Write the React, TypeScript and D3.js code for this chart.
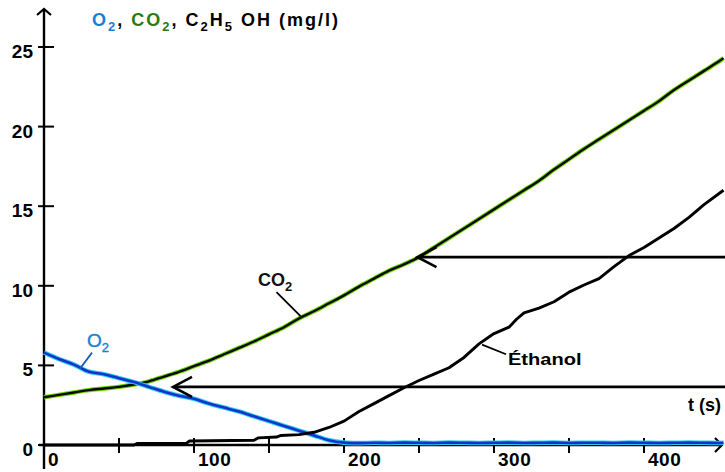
import React from "react";
import * as d3 from "d3";

const W = 725;
const H = 472;

// time grid (s) for CO2 and O2
const timeGrid = [0, 10, 20, 30, 40, 50, 60, 70, 80, 90, 100, 110, 120, 130, 140, 150, 160, 170, 180, 190, 200, 210, 220, 230, 240, 250, 260, 270, 280, 290, 300, 310, 320, 330, 340, 350, 360, 370, 380, 390, 400, 410, 420, 430, 440, 450, 453];
const co2Values = [3.0, 3.15, 3.3, 3.45, 3.55, 3.65, 3.8, 4.0, 4.3, 4.6, 4.95, 5.3, 5.7, 6.1, 6.5, 6.95, 7.4, 7.95, 8.4, 8.9, 9.4, 9.95, 10.45, 10.95, 11.35, 11.8, 12.4, 13.0, 13.6, 14.2, 14.8, 15.4, 16.0, 16.6, 17.3, 17.95, 18.6, 19.2, 19.8, 20.4, 21.0, 21.6, 22.3, 22.9, 23.5, 24.1, 24.3];
const o2Values = [5.8, 5.4, 5.05, 4.6, 4.45, 4.2, 3.95, 3.65, 3.35, 3.1, 2.9, 2.6, 2.35, 2.1, 1.8, 1.5, 1.2, 0.9, 0.6, 0.3, 0.15, 0.12, 0.14, 0.13, 0.15, 0.14, 0.13, 0.15, 0.14, 0.13, 0.14, 0.15, 0.13, 0.14, 0.15, 0.13, 0.14, 0.14, 0.13, 0.15, 0.14, 0.13, 0.14, 0.15, 0.14, 0.13, 0.14];

// ethanol (own time points, step-like start)
const ethanolTimes = [0, 60, 62, 95, 97, 140, 143, 155, 158, 170, 180, 190, 200, 210, 220, 230, 240, 250, 260, 270, 280, 290, 300, 310, 315, 320, 330, 340, 350, 360, 370, 380, 390, 400, 410, 420, 430, 440, 453];
const ethanolValues = [0.0, 0.0, 0.1, 0.12, 0.25, 0.3, 0.45, 0.5, 0.6, 0.65, 0.8, 1.1, 1.5, 2.1, 2.6, 3.1, 3.6, 4.05, 4.45, 4.85, 5.5, 6.35, 7.0, 7.4, 7.9, 8.3, 8.6, 9.0, 9.6, 10.05, 10.45, 11.2, 11.9, 12.4, 13.0, 13.6, 14.3, 15.1, 16.0];

const yTicks = [0, 5, 10, 15, 20, 25];
const xTickMarks = [0, 50, 100, 150, 200, 250, 300, 350, 400];
const xTickLabels = [0, 100, 200, 300, 400];

// horizontal arrows: tip time, value level
const arrowTips = [249, 86];
const arrowLevels = [11.8, 3.65];

export default function App() {
  const x = d3.scaleLinear().domain([0, 400]).range([44, 644]);
  const y = d3.scaleLinear().domain([0, 25]).range([445, 47]);

  const co2 = timeGrid.map((t, i) => [t, co2Values[i]] as [number, number]);
  const o2 = timeGrid.map((t, i) => [t, o2Values[i]] as [number, number]);
  const eth = ethanolTimes.map((t, i) => [t, ethanolValues[i]] as [number, number]);

  const smooth = d3.line<[number, number]>().x(d => x(d[0])).y(d => y(d[1])).curve(d3.curveCatmullRom);
  const lin = d3.line<[number, number]>().x(d => x(d[0])).y(d => y(d[1]));

  const font = "'Liberation Sans', Arial, sans-serif";
  const x0 = x(0);
  const y0 = y(0);
  const xEnd = W - 3;

  return (
    <svg width={W} height={H} style={{ position: "absolute", left: 0, top: 0, background: "#fff" }} fontFamily={font}>
      {/* axes */}
      <line x1={x0} y1={y0 + 24} x2={x0} y2={9} stroke="#000" strokeWidth={2.4} />
      <polyline points={`${x0 - 7},${15} ${x0},${9} ${x0 + 7},${15}`} fill="none" stroke="#000" strokeWidth={2.2} />
      <line x1={x0 - 5} y1={y0} x2={xEnd} y2={y0} stroke="#000" strokeWidth={2.4} />
      <polyline points={`${xEnd - 7},${y0 - 7} ${xEnd},${y0} ${xEnd - 7},${y0 + 7}`} fill="none" stroke="#000" strokeWidth={2.2} />

      {yTicks.map(v => (
        <g key={"yt" + v}>
          <line x1={x0 - 6} x2={x0 + 10} y1={y(v)} y2={y(v)} stroke="#000" strokeWidth={2} />
          <text x={33} y={y(v) + 11} textAnchor="end" fontSize={19} fontWeight="bold">{v}</text>
        </g>
      ))}
      {xTickMarks.map(t => (
        <line key={"xt" + t} x1={x(t)} x2={x(t)} y1={y0 - 7} y2={y0 + 8} stroke="#000" strokeWidth={2} />
      ))}
      {xTickLabels.map(t => (
        <text key={"xl" + t} x={x(t) + 4} y={466} fontSize={19} fontWeight="bold" letterSpacing={0.5}>{t}</text>
      ))}

      {/* title */}
      <text x={92} y={26} fontSize={18} fontWeight="bold" letterSpacing={2}>
        <tspan fill="#1a7fd0">O</tspan>
        <tspan fill="#1a7fd0" fontSize={13} dy={5}>2</tspan>
        <tspan dy={-5}>, </tspan>
        <tspan fill="#2a7a10">CO</tspan>
        <tspan fill="#2a7a10" fontSize={13} dy={5}>2</tspan>
        <tspan dy={-5}>, C</tspan>
        <tspan fontSize={13} dy={5}>2</tspan>
        <tspan dy={-5}>H</tspan>
        <tspan fontSize={13} dy={5}>5</tspan>
        <tspan dy={-5}> OH  (mg/l)</tspan>
      </text>

      {/* curves */}
      <path d={smooth(co2) || ""} fill="none" stroke="#6fd400" strokeWidth={4.4} strokeLinejoin="round" />
      <path d={smooth(co2) || ""} fill="none" stroke="#0a0a0a" strokeWidth={2.4} strokeLinejoin="round" />
      <path d={smooth(o2) || ""} fill="none" stroke="#2cc8f2" strokeWidth={4.6} strokeLinejoin="round" />
      <path d={smooth(o2) || ""} fill="none" stroke="#1533c8" strokeWidth={2.6} strokeLinejoin="round" />
      <path d={lin(eth) || ""} fill="none" stroke="#000" strokeWidth={2.9} strokeLinejoin="round" />

      {/* arrows */}
      {arrowTips.map((t, i) => {
        const tx = x(t);
        const ty = y(arrowLevels[i]);
        return (
          <g key={"ar" + i}>
            <line x1={tx + 1} y1={ty} x2={W} y2={ty} stroke="#000" strokeWidth={2.6} />
            <polyline points={`${tx + 19},${ty - 10} ${tx},${ty} ${tx + 19},${ty + 10}`} fill="none" stroke="#000" strokeWidth={2.6} />
          </g>
        );
      })}

      {/* labels */}
      <line x1={x(155)} y1={y(9.6)} x2={x(171)} y2={y(8.1)} stroke="#000" strokeWidth={1.8} />
      <text x={258} y={286} fontSize={18} fontWeight="bold" fill="#111">
        CO<tspan fontSize={13} dy={5}>2</tspan>
      </text>

      <line x1={x(24)} y1={y(4.8)} x2={x(32)} y2={y(5.8)} stroke="#1a5fb0" strokeWidth={1.8} />
      <text x={87} y={347} fontSize={19} fill="#1a7fd0" stroke="#1a7fd0" strokeWidth={0.4}>
        O<tspan fontSize={13} dy={5}>2</tspan>
      </text>

      <line x1={x(292)} y1={y(6.3)} x2={x(308)} y2={y(5.7)} stroke="#000" strokeWidth={1.8} />
      <text x={508} y={365} fontSize={17} fontWeight="bold" transform="translate(508,0) scale(1.18,1) translate(-508,0)">Éthanol</text>

      <text x={721} y={411} fontSize={18} fontWeight="bold" textAnchor="end">t (s)</text>
    </svg>
  );
}
